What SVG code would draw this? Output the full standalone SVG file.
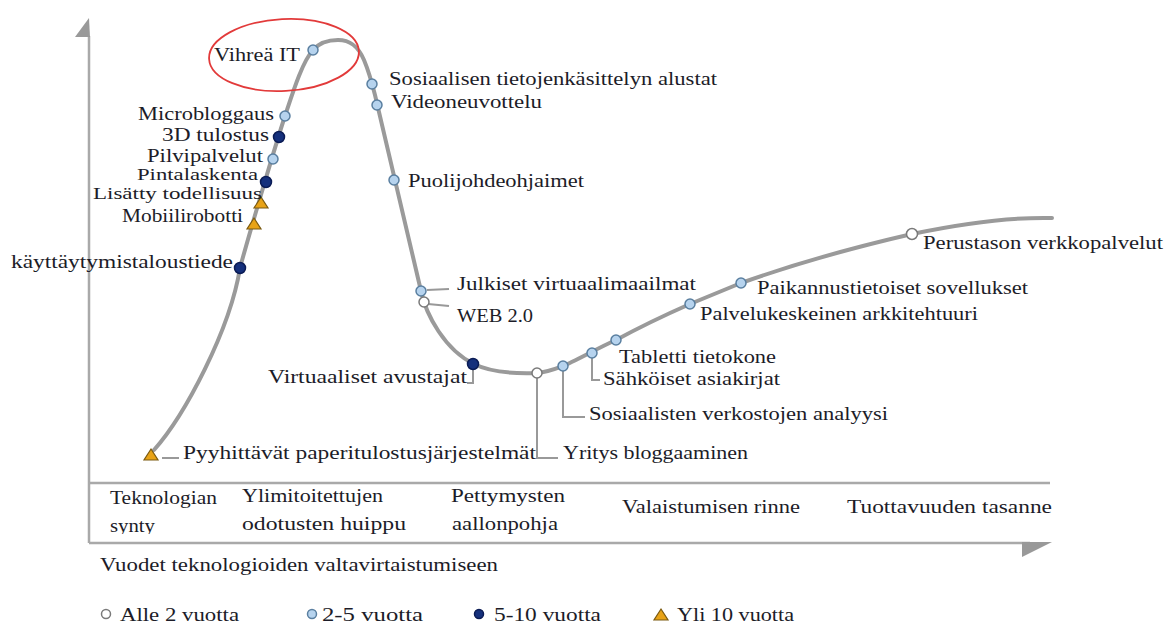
<svg xmlns="http://www.w3.org/2000/svg" width="1176" height="624" viewBox="0 0 1176 624">
<defs>
<style>
.t{font-family:"Liberation Serif","DejaVu Serif",serif;font-size:18px;fill:#1c1c28}
.ax{stroke:#a9a9a9;stroke-width:2.5;fill:none}
.curve{stroke:#9a9a9a;stroke-width:4;fill:none;stroke-linecap:round;stroke-linejoin:round}
.lead{stroke:#999;stroke-width:2;fill:none}
.w{fill:#fff;stroke:#7a7a7a;stroke-width:1.5}
.b{fill:#b6d3ee;stroke:#5a7fa0;stroke-width:1.5}
.d{fill:#15307c;stroke:#0b1c55;stroke-width:1.5}
.tri{fill:#e8a317;stroke:#7a5a10;stroke-width:1.2}
</style>
<clipPath id="clipSynty"><rect x="90" y="484" width="200" height="50"/></clipPath>
<path id="triS" d="M0,-6 L7,5 L-7,5 Z"/>
</defs>
<rect width="1176" height="624" fill="#fff"/>

<g id="axes">
<line class="ax" x1="89" y1="36" x2="89" y2="543"/>
<polygon points="89,18 75,37 90,37" fill="#999"/>
<line class="ax" x1="89" y1="483" x2="1050" y2="483"/>
<line class="ax" x1="89" y1="543" x2="1030" y2="543"/>
<polygon points="1022,542 1052,542 1022,557" fill="#999"/>
</g>

<g id="connectors">
<path class="curve" d="M154,450 C185,415 230,330 240,268 C246,245 276,143 285,116 C292,95 302,62 313,50 C320,42 330,40 338,40 C350,40 358,46 364,60 C369,72 372,83 375,95 L421,291 C426,315 445,350 474,364 C490,372 510,374 537,373 C548,372 555,369 563,366 C575,361 600,347 616,340 C640,327 665,315 690,304 C707,297 724,290 741,283 C800,262 860,246 912,234 C960,224 1010,217 1052,218"/>
<path class="lead" d="M427,290 L449,289"/>
<path class="lead" d="M428,304 L449,306"/>
<path class="lead" d="M473,368 L473,383 L467,383"/>
<path class="lead" d="M537,378 L537,458 L558,458"/>
<path class="lead" d="M563,371 L563,417 L585,417"/>
<path class="lead" d="M592,358 L592,380 L600,380"/>
<path class="lead" d="M162,458 L179,458"/>
</g>

<ellipse id="highlight" cx="284" cy="55" rx="75" ry="36" transform="rotate(-3 284 55)" fill="none" stroke="#e23a3a" stroke-width="1.8"/>

<g id="n-vihrea"><circle class="b" cx="313" cy="50" r="5"/><text class="t" x="214" y="61" textLength="86" lengthAdjust="spacingAndGlyphs">Vihreä IT</text></g>
<g id="n-micro"><circle class="b" cx="285" cy="116" r="5"/><text class="t" x="138" y="120" textLength="136" lengthAdjust="spacingAndGlyphs">Microbloggaus</text></g>
<g id="n-3d"><circle class="d" cx="279" cy="137" r="5.5"/><text class="t" x="162" y="141" textLength="107" lengthAdjust="spacingAndGlyphs">3D tulostus</text></g>
<g id="n-pilvi"><circle class="b" cx="273" cy="159" r="5"/><text class="t" x="147" y="162" textLength="116" lengthAdjust="spacingAndGlyphs">Pilvipalvelut</text></g>
<g id="n-pinta"><circle class="d" cx="266" cy="182" r="5.5"/><text class="t" x="137" y="180" textLength="121" lengthAdjust="spacingAndGlyphs" style="font-size:17px">Pintalaskenta</text></g>
<g id="n-lisatty"><use href="#triS" class="tri" x="261" y="203"/><text class="t" x="93" y="199" textLength="169" lengthAdjust="spacingAndGlyphs" style="font-size:17px">Lisätty todellisuus</text></g>
<g id="n-mobiili"><use href="#triS" class="tri" x="254" y="224"/><text class="t" x="122" y="222" textLength="121" lengthAdjust="spacingAndGlyphs">Mobiilirobotti</text></g>
<g id="n-kayttay"><circle class="d" cx="240" cy="268" r="5.5"/><text class="t" x="11" y="268" textLength="222" lengthAdjust="spacingAndGlyphs">käyttäytymistaloustiede</text></g>
<g id="n-sosiaalisen"><circle class="b" cx="372" cy="84" r="5"/><text class="t" x="389" y="85" textLength="328" lengthAdjust="spacingAndGlyphs">Sosiaalisen tietojenkäsittelyn alustat</text></g>
<g id="n-video"><circle class="b" cx="377" cy="105" r="5"/><text class="t" x="391" y="108" textLength="151" lengthAdjust="spacingAndGlyphs">Videoneuvottelu</text></g>
<g id="n-puoli"><circle class="b" cx="394" cy="180" r="5"/><text class="t" x="408" y="187" textLength="176" lengthAdjust="spacingAndGlyphs">Puolijohdeohjaimet</text></g>
<g id="n-julkiset"><circle class="b" cx="421" cy="291" r="5"/><text class="t" x="457" y="290" textLength="239" lengthAdjust="spacingAndGlyphs">Julkiset virtuaalimaailmat</text></g>
<g id="n-web"><circle class="w" cx="424" cy="302" r="5"/><text class="t" x="457" y="322" textLength="76" lengthAdjust="spacingAndGlyphs">WEB 2.0</text></g>
<g id="n-virtuaaliset"><circle class="d" cx="473" cy="364" r="5.5"/><text class="t" x="268" y="383" textLength="199" lengthAdjust="spacingAndGlyphs">Virtuaaliset avustajat</text></g>
<g id="n-pyyhittavat"><use href="#triS" class="tri" x="151" y="455"/><text class="t" x="183" y="459" textLength="353" lengthAdjust="spacingAndGlyphs">Pyyhittävät paperitulostusjärjestelmät</text></g>
<g id="n-yritys"><circle class="w" cx="537" cy="373" r="5"/><text class="t" x="563" y="459" textLength="185" lengthAdjust="spacingAndGlyphs">Yritys bloggaaminen</text></g>
<g id="n-sosverk"><circle class="b" cx="563" cy="366" r="5"/><text class="t" x="589" y="420" textLength="299" lengthAdjust="spacingAndGlyphs">Sosiaalisten verkostojen analyysi</text></g>
<g id="n-sahkoiset"><circle class="b" cx="592" cy="353" r="5"/><text class="t" x="603" y="385" textLength="177" lengthAdjust="spacingAndGlyphs">Sähköiset asiakirjat</text></g>
<g id="n-tabletti"><circle class="b" cx="616" cy="340" r="5"/><text class="t" x="619" y="363" textLength="157" lengthAdjust="spacingAndGlyphs">Tabletti tietokone</text></g>
<g id="n-palvelu"><circle class="b" cx="690" cy="304" r="5"/><text class="t" x="700" y="320" textLength="278" lengthAdjust="spacingAndGlyphs">Palvelukeskeinen arkkitehtuuri</text></g>
<g id="n-paikannus"><circle class="b" cx="741" cy="283" r="5"/><text class="t" x="757" y="294" textLength="271" lengthAdjust="spacingAndGlyphs">Paikannustietoiset sovellukset</text></g>
<g id="n-perustason"><circle class="w" cx="912" cy="234" r="5.5"/><text class="t" x="923" y="249" textLength="240" lengthAdjust="spacingAndGlyphs">Perustason verkkopalvelut</text></g>

<g id="phases">
<text class="t" x="110" y="504" textLength="107" lengthAdjust="spacingAndGlyphs">Teknologian</text>
<text class="t" x="110" y="532" textLength="45" lengthAdjust="spacingAndGlyphs" clip-path="url(#clipSynty)">synty</text>
<text class="t" x="242" y="502" textLength="141" lengthAdjust="spacingAndGlyphs">Ylimitoitettujen</text>
<text class="t" x="242" y="530" textLength="164" lengthAdjust="spacingAndGlyphs">odotusten huippu</text>
<text class="t" x="451" y="502" textLength="114" lengthAdjust="spacingAndGlyphs">Pettymysten</text>
<text class="t" x="452" y="530" textLength="106" lengthAdjust="spacingAndGlyphs">aallonpohja</text>
<text class="t" x="622" y="513" textLength="178" lengthAdjust="spacingAndGlyphs">Valaistumisen rinne</text>
<text class="t" x="847" y="513" textLength="205" lengthAdjust="spacingAndGlyphs">Tuottavuuden tasanne</text>
</g>

<text id="xlabel" class="t" x="100" y="571" textLength="398" lengthAdjust="spacingAndGlyphs">Vuodet teknologioiden valtavirtaistumiseen</text>

<g id="legend">
<circle class="w" cx="106" cy="614" r="4.5"/><text class="t" x="120" y="621" textLength="119" lengthAdjust="spacingAndGlyphs">Alle 2 vuotta</text>
<circle class="b" cx="312" cy="614" r="4.5"/><text class="t" x="322" y="621" textLength="101" lengthAdjust="spacingAndGlyphs">2-5 vuotta</text>
<circle class="d" cx="479" cy="614" r="4.5"/><text class="t" x="494" y="621" textLength="107" lengthAdjust="spacingAndGlyphs">5-10 vuotta</text>
<use href="#triS" class="tri" x="661" y="615"/><text class="t" x="677" y="621" textLength="117" lengthAdjust="spacingAndGlyphs">Yli 10 vuotta</text>
</g>
</svg>
